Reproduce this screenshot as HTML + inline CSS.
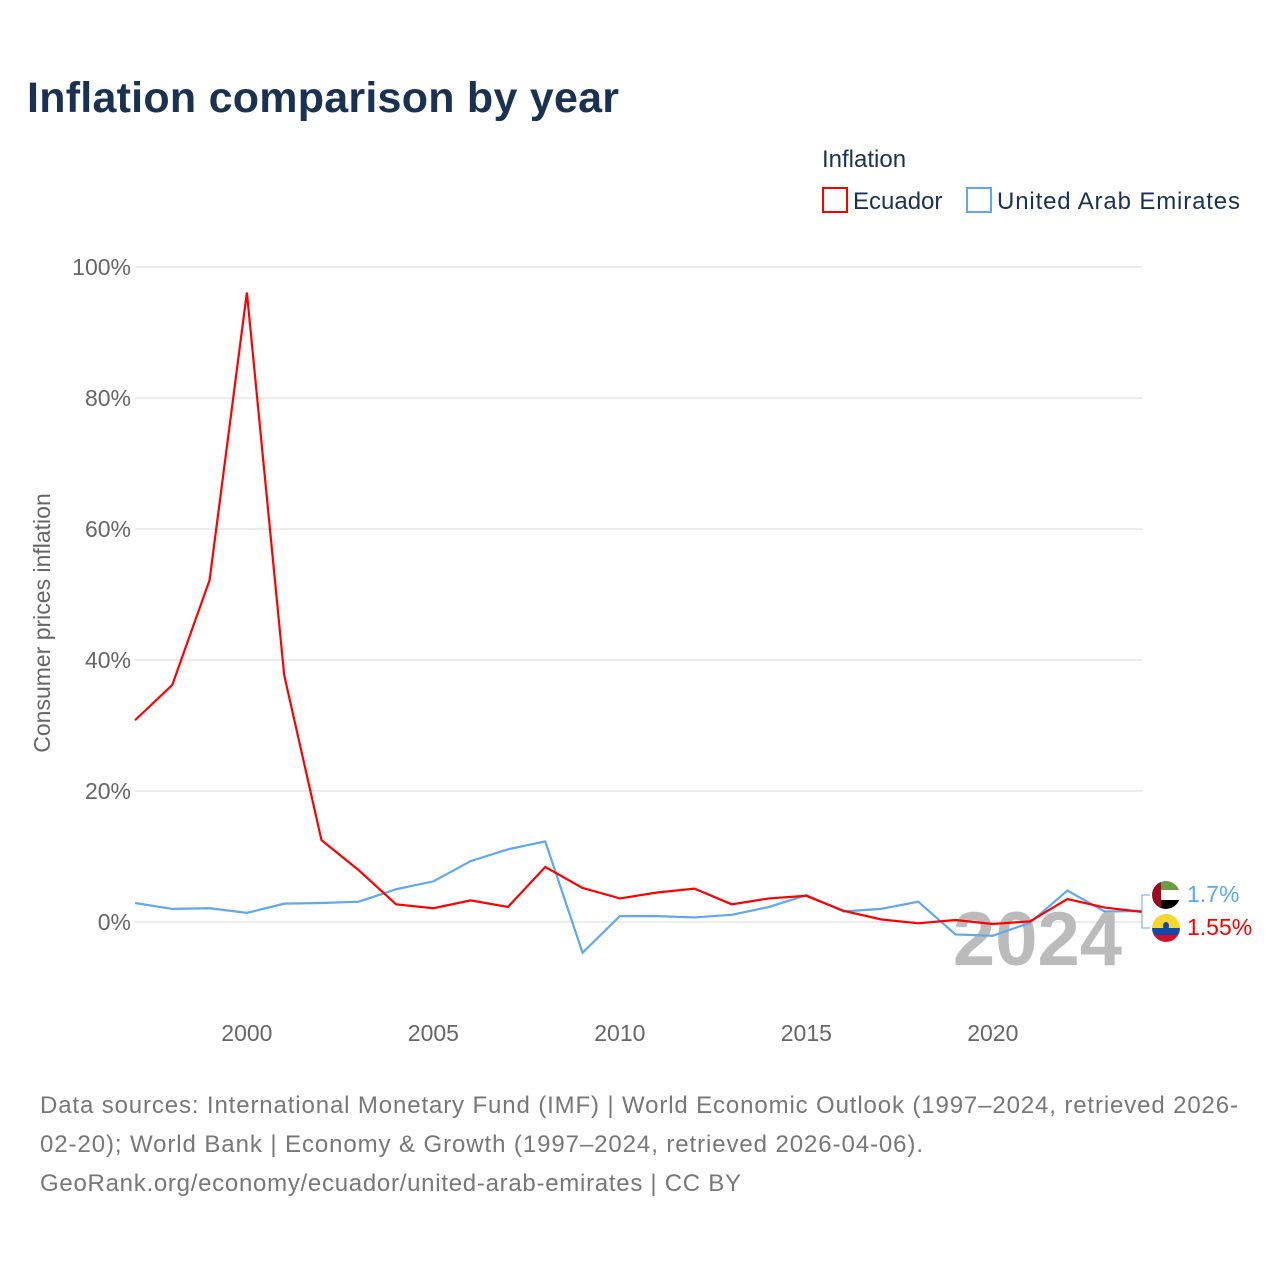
<!DOCTYPE html>
<html><head><meta charset="utf-8"><style>
body{margin:0;background:#fff;width:1280px;height:1280px;overflow:hidden;font-family:"Liberation Sans",sans-serif}
</style></head><body>
<svg id="chart" width="1280" height="1280" xmlns="http://www.w3.org/2000/svg">
<defs>
<clipPath id="c1"><circle cx="1166" cy="895" r="14"/></clipPath>
<clipPath id="c2"><circle cx="1166" cy="928" r="14"/></clipPath>
</defs>
<text x="27" y="112" font-size="43" font-weight="bold" fill="#1a3152" textLength="592" font-family="Liberation Sans, sans-serif">Inflation comparison by year</text>
<text x="822" y="167" font-size="24" fill="#1a3152">Inflation</text>
<g><rect x="823" y="188" width="24" height="24" fill="none" stroke="#ff0000" stroke-width="2"/><text x="853" y="209" font-size="24" fill="#1a3152">Ecuador</text></g>
<g><rect x="967" y="188" width="24" height="24" fill="none" stroke="#5ea8ee" stroke-width="2"/><text x="997" y="209" font-size="24" fill="#1a3152" textLength="243">United Arab Emirates</text></g>
<text transform="translate(50,623) rotate(-90)" text-anchor="middle" font-size="23" fill="#666">Consumer prices inflation</text>
<g id="grid"></g><g id="yt"></g><g id="xt"></g>
<text x="1122" y="965" text-anchor="end" font-size="76" font-weight="bold" fill="#bbb">2024</text>
<g id="lines"></g>
<g>
<path d="M1142,911 V895 H1150 M1142,911 V928 H1150" fill="none" stroke="#5ea8ee" stroke-width="1"/>
<g clip-path="url(#c1)">
<rect x="1152" y="881" width="28" height="28" fill="#fff"/>
<rect x="1152" y="881" width="28" height="9" fill="#6a9e45"/>
<rect x="1152" y="900" width="28" height="9" fill="#000"/>
<rect x="1152" y="881" width="9" height="28" fill="#9b0b21"/>
</g>
<g clip-path="url(#c2)">
<rect x="1152" y="914" width="28" height="28" fill="#f6d730"/>
<rect x="1152" y="928" width="28" height="7" fill="#1548a8"/>
<rect x="1152" y="935" width="28" height="7" fill="#d0102a"/>
<ellipse cx="1166" cy="926" rx="3" ry="4" fill="#1548a8"/>
</g>
<text x="1187" y="902" font-size="23" fill="#5ea8ee">1.7%</text>
<text x="1187" y="935" font-size="23" fill="#ff0000">1.55%</text>
</g>
<text font-size="24" fill="#777"><tspan x="40" y="1113" textLength="1198">Data sources: International Monetary Fund (IMF) | World Economic Outlook (1997–2024, retrieved 2026-</tspan><tspan x="40" y="1152" textLength="883">02-20); World Bank | Economy &amp; Growth (1997–2024, retrieved 2026-04-06).</tspan><tspan x="40" y="1191" textLength="701">GeoRank.org/economy/ecuador/united-arab-emirates | CC BY</tspan></text>
</svg>
<script>
const years=[1997,1998,1999,2000,2001,2002,2003,2004,2005,2006,2007,2008,2009,2010,2011,2012,2013,2014,2015,2016,2017,2018,2019,2020,2021,2022,2023,2024];
const ecuador=[30.8,36.2,52.2,96.1,37.7,12.5,7.9,2.7,2.1,3.3,2.3,8.4,5.2,3.6,4.5,5.1,2.7,3.6,4.0,1.7,0.4,-0.2,0.3,-0.3,0.1,3.5,2.2,1.55];
const uae=[2.9,2.0,2.1,1.4,2.8,2.9,3.1,5.0,6.2,9.3,11.1,12.3,-4.7,0.9,0.9,0.7,1.1,2.3,4.1,1.6,2.0,3.1,-1.9,-2.1,-0.1,4.8,1.6,1.7];
const yTicks=[0,20,40,60,80,100];
const xTicks=[2000,2005,2010,2015,2020];
const NS="http://www.w3.org/2000/svg";
const x=v=>135+(v-1997)*(1142-135)/27;
const y=v=>922-v*6.55;
const g=document.getElementById('grid'),yt=document.getElementById('yt'),xt=document.getElementById('xt'),L=document.getElementById('lines');
yTicks.forEach(t=>{
 const l=document.createElementNS(NS,'line');
 
 
 l.setAttribute('x1',135);l.setAttribute('x2',1142);l.setAttribute('y1',y(t));l.setAttribute('y2',y(t));
 l.setAttribute('stroke','#e6e6e6');l.setAttribute('stroke-width',1.5);g.appendChild(l);
 const tx=document.createElementNS(NS,'text');
 
 
 tx.setAttribute('x',131);tx.setAttribute('y',y(t)+8);tx.setAttribute('text-anchor','end');
 tx.setAttribute('font-size',23);tx.setAttribute('fill','#666');tx.textContent=t+'%';yt.appendChild(tx);
});
xTicks.forEach(t=>{
 const tx=document.createElementNS(NS,'text');
 
 
 tx.setAttribute('x',x(t));tx.setAttribute('y',1041);tx.setAttribute('text-anchor','middle');
 tx.setAttribute('font-size',23);tx.setAttribute('fill','#666');tx.textContent=t;xt.appendChild(tx);
});
function line(data,color,name){
 const p=document.createElementNS(NS,'polyline');
 
 
 p.setAttribute('points',data.map((v,i)=>x(years[i])+','+y(v)).join(' '));
 p.setAttribute('fill','none');p.setAttribute('stroke',color);p.setAttribute('stroke-width',2.2);
 L.appendChild(p);
}
line(uae,'#5ea8ee','uae-line');
line(ecuador,'#ff0000','ecuador-line');
</script>
</body></html>
